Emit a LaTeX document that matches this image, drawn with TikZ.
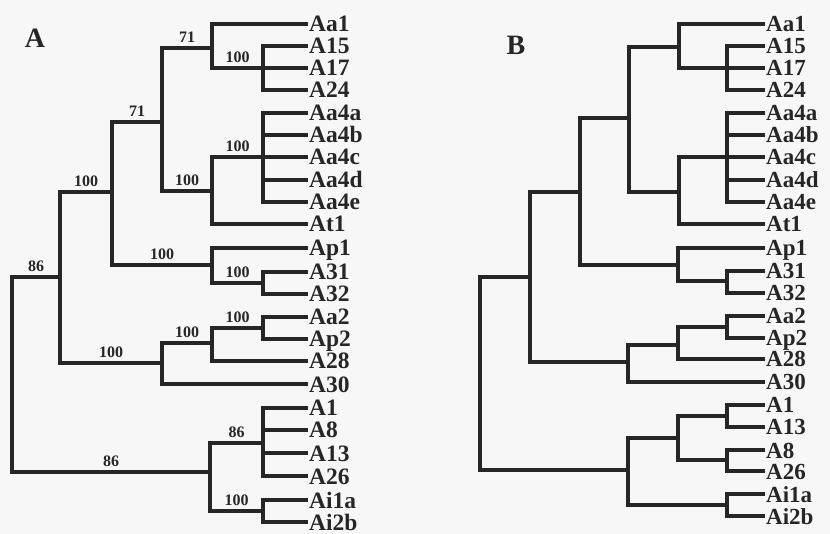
\documentclass[tikz,border=0pt]{standalone}
\usepackage{fontspec}
\setmainfont{Liberation Serif}
\tikzset{
    branch/.style={line width=3.2pt, draw=black!85},
    leafA/.style={anchor=base west, inner sep=0pt, xshift=1pt, yshift=-8pt, text=black!85, font=\fontsize{23.5}{23.5}\selectfont\bfseries},
    leafB/.style={anchor=base west, inner sep=0pt, xshift=1pt, yshift=-8pt, text=black!85, font=\fontsize{23}{23}\selectfont\bfseries},
    boot/.style={above=3.5pt, inner sep=0pt, text=black!85, font=\fontsize{16}{16}\selectfont\bfseries},
    panel/.style={inner sep=0pt, text=black!85, font=\fontsize{28}{28}\selectfont\bfseries}
}
\begin{document}
\begin{tikzpicture}[x=1pt,y=-1pt]
    \fill[black!3] (0,0) rectangle (830,534);
    %panel letters
    \node[panel] (labA) at (35,38) {A};
    \node[panel] (labB) at (516,45) {B};
    %tree A: leaves
    \foreach \name/\y in {Aa1/24,A15/46,A17/68,A24/90,Aa4a/113,Aa4b/135,Aa4c/157,Aa4d/180,Aa4e/202,At1/224,Ap1/248,A31/272,A32/294,Aa2/317,Ap2/339,A28/361,A30/384,A1/408,A8/430,A13/453,A26/476,Ai1a/500,Ai2b/522}
        {%
            \coordinate (a-\name) at (308,\y);
            \node[leafA] (la-\name) at (a-\name) {\name};
        }
    %tree A: inner nodes
    \foreach \name/\x/\y in {r/12/375,X1/60/277,X13/210/472,X2/112/192,X10/162/363,X3/162/122,X8/212/265,X4/212/48,X6/212/191,X5/263/68,X7/263/157,X9/263/283,X11/212/343,X12/263/328,X14/263/443,X15/263/511}
        {%
            \coordinate (a-\name) at (\x,\y);
        }
    %tree A: plain branches
    \foreach \p/\c in {X4/Aa1,X5/A15,X5/A17,X5/A24,X6/At1,X7/Aa4a,X7/Aa4b,X7/Aa4c,X7/Aa4d,X7/Aa4e,X8/Ap1,X9/A31,X9/A32,X10/A30,X11/A28,X12/Aa2,X12/Ap2,X14/A1,X14/A8,X14/A13,X14/A26,X15/Ai1a,X15/Ai2b}
        {%
            \draw[branch] (a-\p) |- (a-\c);
        }
    %tree A: branches with support values
    \foreach \p/\c/\v in {r/X1/86,r/X13/86,X1/X2/100,X1/X10/100,X2/X3/71,X2/X8/100,X3/X4/71,X3/X6/100,X4/X5/100,X6/X7/100,X8/X9/100,X10/X11/100,X11/X12/100,X13/X14/86,X13/X15/100}
        {%
            \draw[branch] (a-\p) |- node[boot, pos=.75] (bs-\c) {\v} (a-\c);
        }
    %tree B: leaves
    \foreach \name/\y in {Aa1/24,A15/46,A17/68,A24/90,Aa4a/113,Aa4b/135,Aa4c/157,Aa4d/180,Aa4e/202,At1/224,Ap1/248,A31/271,A32/293,Aa2/316,Ap2/338,A28/359,A30/382,A1/405,A13/427,A8/450,A26/471,Ai1a/494,Ai2b/516}
        {%
            \coordinate (b-\name) at (765,\y);
            \node[leafB] (lb-\name) at (b-\name) {\name};
        }
    %tree B: inner nodes
    \foreach \name/\x/\y in {r/480/370,Y1/530/277,Y13/628/470,Y2/580/192,Y10/628/362,Y3/629/118,Y8/678/265,Y4/679/47,Y6/679/192,Y5/727/68,Y7/727/157,Y9/727/281,Y11/678/345,Y12/727/327,Y14/678/438,Y15/727/416,Y16/727/460,Y17/727/505}
        {%
            \coordinate (b-\name) at (\x,\y);
        }
    %tree B: branches
    \foreach \p/\c in {r/Y1,r/Y13,Y1/Y2,Y1/Y10,Y2/Y3,Y2/Y8,Y3/Y4,Y3/Y6,Y4/Aa1,Y4/Y5,Y5/A15,Y5/A17,Y5/A24,Y6/Y7,Y6/At1,Y7/Aa4a,Y7/Aa4b,Y7/Aa4c,Y7/Aa4d,Y7/Aa4e,Y8/Ap1,Y8/Y9,Y9/A31,Y9/A32,Y10/Y11,Y10/A30,Y11/Y12,Y11/A28,Y12/Aa2,Y12/Ap2,Y13/Y14,Y13/Y17,Y14/Y15,Y14/Y16,Y15/A1,Y15/A13,Y16/A8,Y16/A26,Y17/Ai1a,Y17/Ai2b}
        {%
            \draw[branch] (b-\p) |- (b-\c);
        }
\end{tikzpicture}
\end{document}
